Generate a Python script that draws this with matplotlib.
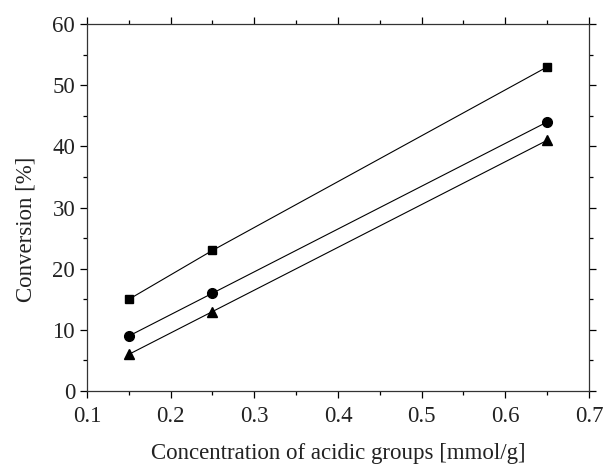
import matplotlib.pyplot as plt
import matplotlib.ticker as tck

# data
conc = [0.15, 0.25, 0.65]   # concentration of acidic groups [mmol/g]
conv_square = [15, 23, 53]
conv_circle = [9, 16, 44]
conv_triangle = [6, 13, 41]

plt.rcParams['font.family'] = ['Liberation Serif', 'DejaVu Serif']

fig = plt.figure(figsize=(6.04, 4.65), dpi=100)
ax = fig.add_axes([0.144, 0.159, 0.831, 0.789])

ax.plot(conc, conv_square, 'k-', marker='s', ms=6, lw=0.8)
ax.plot(conc, conv_circle, 'k-', marker='o', ms=7, lw=0.8)
ax.plot(conc, conv_triangle, 'k-', marker='^', ms=7.5, lw=0.8)

# limits and labels
ax.set_xlim(0.1, 0.7)
ax.set_ylim(0, 60)
ax.set_xlabel('Concentration of acidic groups [mmol/g]', fontsize=16.5, color='#222222', labelpad=11)
ax.set_ylabel('Conversion [%]', fontsize=16.5, color='#222222')
ax.yaxis.set_label_coords(-0.10, 0.44)

# ticks
ax.xaxis.set_major_locator(tck.MultipleLocator(0.1))
ax.xaxis.set_minor_locator(tck.MultipleLocator(0.05))
ax.yaxis.set_major_locator(tck.MultipleLocator(10))
ax.yaxis.set_minor_locator(tck.MultipleLocator(5))
ax.xaxis.set_major_formatter(tck.FormatStrFormatter('%.1f'))
ax.tick_params(which='both', direction='out', top=True, right=True, labelsize=16.5,
               labelcolor='#222222', width=0.9)
ax.tick_params(which='major', length=5)
ax.tick_params(which='minor', length=3)
ax.tick_params(axis='x', which='major', pad=6)
for s in ax.spines.values():
    s.set_linewidth(0.9)
    s.set_color('#333333')

fig.savefig('out.png', dpi=100)
